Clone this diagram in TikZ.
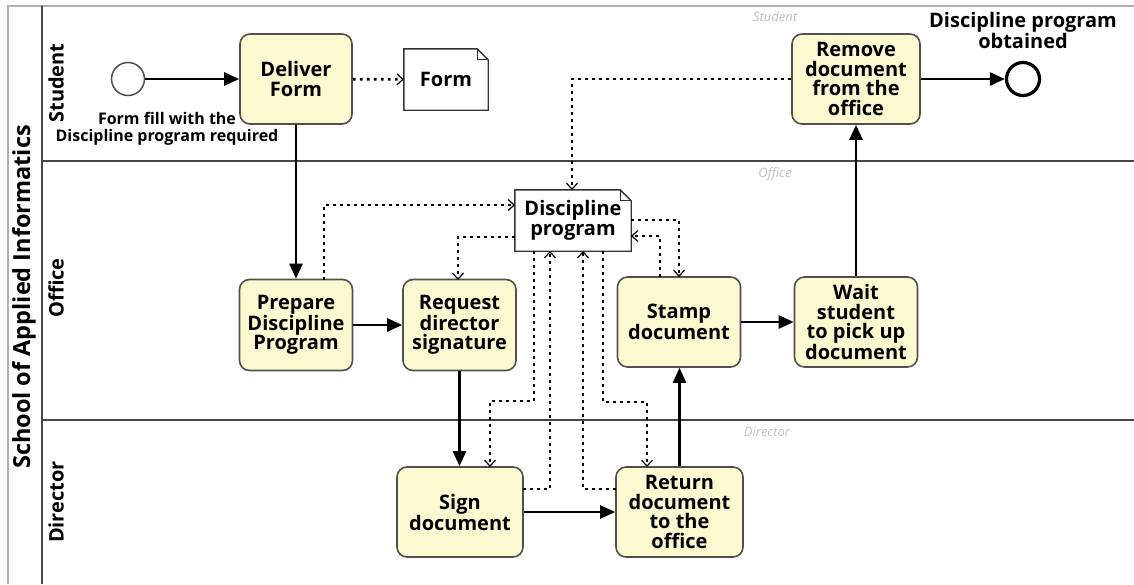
\documentclass[tikz,border=0pt]{standalone}
\usepackage{fontspec}
\setmainfont{Open Sans}
\usetikzlibrary{arrows.meta,calc}

\definecolor{taskfill}{RGB}{250,249,208}
\definecolor{taskline}{RGB}{80,80,80}
\definecolor{lanegray}{RGB}{70,70,70}
\definecolor{poolgray}{RGB}{175,175,175}
\definecolor{hintgray}{RGB}{190,190,190}

\tikzset{
  task/.style={draw=taskline, line width=1.6pt, fill=taskfill, rounded corners=10pt,
    align=center, font=\bfseries\fontsize{20}{19.5}\selectfont, inner sep=2pt},
  dataobj/.style={align=center, font=\bfseries\fontsize{20}{19.5}\selectfont, inner sep=2pt},
  flow/.style={line width=2.5pt, -{Triangle[length=15pt,width=13pt]}},
  assoc/.style={line width=2.8pt, dash pattern=on 2.8pt off 4.2pt,
    -{Straight Barb[length=6pt,width=11pt,line width=1.2pt]}},
  event/.style={circle, draw=black, minimum size=33pt, inner sep=0pt, fill=white},
  lanetitle/.style={rotate=90, font=\bfseries\fontsize{20}{22}\selectfont},
  hint/.style={font=\itshape\fontsize{13}{14}\selectfont, text=hintgray},
}

\begin{document}
\begin{tikzpicture}[x=1pt,y=-1pt]
\useasboundingbox (0,0) rectangle (1134,584);

% pool and lanes
\draw[poolgray, line width=1.3pt] (8,584) -- (8,6) -- (1134,6);
\draw[lanegray, line width=1.6pt] (42,6) -- (42,584);
\draw[lanegray, line width=1.6pt] (42,161) -- (1134,161);
\draw[lanegray, line width=1.6pt] (42,420) -- (1134,420);

\node[rotate=90, font=\bfseries\fontsize{23.5}{26}\selectfont] (pool) at (24,297) {School of Applied Informatics};
\node[lanetitle] (lstudent) at (56,83) {Student};
\node[lanetitle] (loffice) at (56,288) {Office};
\node[lanetitle] (ldirector) at (56,502) {Director};

\node[hint] (hstudent) at (775,17) {Student};
\node[hint] (hoffice) at (775,174) {Office};
\node[hint] (hdirector) at (767,432) {Director};

% events
\node[event, line width=1.5pt, draw=taskline] (start) at (128,79) {};
\node[event, line width=3.2pt] (finish) at (1023,79) {};
\node[font=\bfseries\fontsize{16}{16.5}\selectfont, align=center] (startlbl) at (167,129)
  {Form fill with the\\Discipline program required};
\node[font=\bfseries\fontsize{20}{17}\selectfont, align=center] (endlbl) at (1023,30)
  {Discipline program\\obtained};

% tasks
\node[task, minimum width=112pt, minimum height=90pt] (deliver) at (296,79) {Deliver\\Form};
\node[task, minimum width=128pt, minimum height=90pt] (remove) at (856,79) {Remove\\document\\from the\\office};
\node[task, minimum width=113pt, minimum height=91pt] (prepare) at (296,325) {Prepare\\Discipline\\Program};
\node[task, minimum width=113pt, minimum height=91pt] (request) at (459.5,325) {Request\\director\\signature};
\node[task, minimum width=123pt, minimum height=90pt] (stamp) at (679,322) {Stamp\\document};
\node[task, minimum width=123pt, minimum height=90pt] (wait) at (856,322) {Wait\\student\\to pick up\\document};
\node[task, minimum width=126pt, minimum height=90pt] (sign) at (460,512) {Sign\\document};
\node[task, minimum width=127pt, minimum height=90pt] (return) at (679.5,512) {Return\\document\\to the\\office};

% data objects
\node[dataobj, minimum width=84pt, minimum height=61pt] (form) at (446,79.5) {Form};
\node[dataobj, minimum width=116pt, minimum height=61pt] (disc) at (573,220.5) {Discipline\\program};
\foreach \d in {form,disc}{
  \draw[line width=1.4pt, draw=black!80]
    (\d.south west) -- (\d.north west) -- ([xshift=-11pt]\d.north east)
    -- ([yshift=-11pt]\d.north east) -- (\d.south east) -- cycle;
  \draw[line width=1pt, draw=black!80]
    ([xshift=-11pt]\d.north east) -- ([xshift=-11pt,yshift=-11pt]\d.north east)
    -- ([yshift=-11pt]\d.north east);
}

% sequence flows
\draw[flow] (start) -- (deliver);
\draw[flow] (deliver.south) -- (prepare.north);
\draw[flow] (prepare) -- (request);
\draw[flow] (request.south) -- (request.south |- sign.north);
\draw[flow] (sign) -- (sign -| return.west);
\draw[flow] (return.north) -- (return.north |- stamp.south);
\draw[flow] (stamp) -- (stamp -| wait.west);
\draw[flow] (wait.north) -- (wait.north |- remove.south);
\draw[flow] (remove) -- (finish);

% data associations
\draw[assoc] (deliver) -- (form);
\draw[assoc] (remove.west) -| (572,190);
\draw[assoc] (324,280) |- (515,205);
\draw[assoc] (515,237) -| (458,280);
\draw[assoc] (534,251) -- (534,401) -| (490,467);
\draw[assoc] (523,489) -| (550,251);
\draw[assoc] (616,489) -| (583,251);
\draw[assoc] (603,251) -- (603,402) -| (647,467);
\draw[assoc] (660,277) |- (631,236);
\draw[assoc] (631,220) -| (679,277);
\end{tikzpicture}
\end{document}
